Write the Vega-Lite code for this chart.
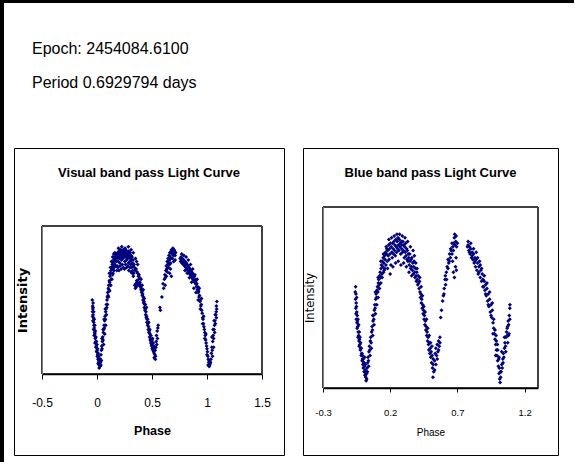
{
  "$schema": "https://vega.github.io/schema/vega-lite/v6.json",
  "padding": 0,
  "background": "white",
  "config": {"view": {"stroke": null}, "font": "Liberation Sans", "axis": {"grid": false}},
  "datasets": {
    "visual": [
      {"p":-0.043,"v":50},{"p":-0.040,"v":46},{"p":-0.038,"v":44},{"p":-0.041,"v":42},{"p":-0.036,"v":45},{"p":-0.035,"v":40},{"p":-0.033,"v":38},{"p":-0.037,"v":36},{"p":-0.030,"v":35},{"p":-0.028,"v":33},{"p":-0.031,"v":30},{"p":-0.025,"v":31},{"p":-0.022,"v":28},{"p":-0.026,"v":26},{"p":-0.019,"v":27},{"p":-0.016,"v":24},{"p":-0.018,"v":21},{"p":-0.012,"v":22},{"p":-0.010,"v":18},{"p":-0.006,"v":19},{"p":-0.004,"v":15},{"p":0.000,"v":16},{"p":0.003,"v":12},{"p":0.006,"v":13},{"p":0.009,"v":10},{"p":0.012,"v":11},{"p":0.015,"v":8},{"p":0.018,"v":9},{"p":0.021,"v":6},{"p":0.024,"v":7},{"p":0.027,"v":5},{"p":0.030,"v":8},
      {"p":-0.040,"v":39},{"p":-0.035,"v":48},{"p":-0.030,"v":42},{"p":-0.025,"v":37},{"p":-0.020,"v":33},{"p":-0.015,"v":29},{"p":-0.010,"v":25},{"p":-0.005,"v":22},{"p":0.000,"v":20},{"p":0.005,"v":17},{"p":0.010,"v":14},{"p":0.015,"v":12},{"p":0.020,"v":10},{"p":0.010,"v":7},{"p":0.020,"v":4},{"p":0.035,"v":6},{"p":0.040,"v":9},
      {"p":0.033,"v":10},{"p":0.036,"v":13},{"p":0.040,"v":16},{"p":0.043,"v":19},{"p":0.046,"v":17},{"p":0.049,"v":22},{"p":0.052,"v":25},{"p":0.055,"v":23},{"p":0.058,"v":28},{"p":0.061,"v":30},{"p":0.064,"v":33},{"p":0.067,"v":31},{"p":0.070,"v":36},{"p":0.073,"v":39},{"p":0.076,"v":37},{"p":0.079,"v":42},{"p":0.082,"v":44},{"p":0.085,"v":47},{"p":0.088,"v":45},{"p":0.091,"v":50},{"p":0.094,"v":52},{"p":0.097,"v":55},{"p":0.100,"v":53},{"p":0.103,"v":58},{"p":0.106,"v":60},{"p":0.109,"v":57},{"p":0.112,"v":63},{"p":0.115,"v":62},{"p":0.118,"v":66},{"p":0.121,"v":60},{"p":0.124,"v":68},{"p":0.127,"v":70},{"p":0.130,"v":64},{"p":0.133,"v":72},{"p":0.136,"v":71},{"p":0.139,"v":74},{"p":0.142,"v":67},{"p":0.145,"v":75},{"p":0.148,"v":73},{"p":0.151,"v":77},{"p":0.154,"v":70},{"p":0.157,"v":76},{"p":0.160,"v":78},{"p":0.163,"v":74},{"p":0.166,"v":79},{"p":0.169,"v":77},
      {"p":0.045,"v":24},{"p":0.055,"v":30},{"p":0.065,"v":37},{"p":0.075,"v":44},{"p":0.060,"v":20},{"p":0.070,"v":27},{"p":0.080,"v":33},
      {"p":0.085,"v":40},{"p":0.095,"v":47},{"p":0.105,"v":52},{"p":0.115,"v":56},{"p":0.125,"v":60},{"p":0.135,"v":64},{"p":0.145,"v":68},{"p":0.155,"v":72},{"p":0.165,"v":73},{"p":0.112,"v":68},{"p":0.122,"v":72},{"p":0.132,"v":76},{"p":0.142,"v":79},{"p":0.152,"v":81},{"p":0.162,"v":82},
      {"p":0.172,"v":80},{"p":0.175,"v":76},{"p":0.178,"v":81},{"p":0.181,"v":78},{"p":0.184,"v":73},{"p":0.187,"v":82},{"p":0.190,"v":79},{"p":0.193,"v":76},{"p":0.196,"v":81},{"p":0.199,"v":83},{"p":0.202,"v":78},{"p":0.205,"v":80},{"p":0.208,"v":75},{"p":0.211,"v":82},{"p":0.214,"v":84},{"p":0.217,"v":79},{"p":0.220,"v":81},{"p":0.223,"v":77},{"p":0.226,"v":83},{"p":0.229,"v":80},{"p":0.232,"v":82},{"p":0.235,"v":78},{"p":0.238,"v":84},{"p":0.241,"v":81},{"p":0.244,"v":79},{"p":0.247,"v":83},{"p":0.250,"v":80},{"p":0.253,"v":76},{"p":0.256,"v":82},{"p":0.259,"v":84},{"p":0.262,"v":79},{"p":0.265,"v":81},{"p":0.268,"v":77},{"p":0.271,"v":83},{"p":0.274,"v":80},{"p":0.277,"v":82},{"p":0.280,"v":78},{"p":0.283,"v":81},{"p":0.286,"v":75},{"p":0.289,"v":83},{"p":0.292,"v":79},{"p":0.295,"v":80},{"p":0.298,"v":76},{"p":0.301,"v":82},{"p":0.304,"v":78},{"p":0.307,"v":74},{"p":0.310,"v":80},{"p":0.313,"v":77},{"p":0.316,"v":72},{"p":0.319,"v":79},{"p":0.322,"v":75},{"p":0.325,"v":70},{"p":0.328,"v":77},{"p":0.331,"v":73},{"p":0.334,"v":68},{"p":0.337,"v":74},
      {"p":0.180,"v":70},{"p":0.190,"v":72},{"p":0.200,"v":70},{"p":0.210,"v":73},{"p":0.220,"v":71},{"p":0.230,"v":74},{"p":0.240,"v":72},{"p":0.250,"v":71},{"p":0.260,"v":74},{"p":0.270,"v":72},{"p":0.280,"v":73},{"p":0.290,"v":70},{"p":0.300,"v":72},{"p":0.310,"v":69},{"p":0.320,"v":68},{"p":0.330,"v":66},{"p":0.195,"v":85},{"p":0.225,"v":86},{"p":0.255,"v":85},{"p":0.285,"v":86},{"p":0.310,"v":84},{"p":0.330,"v":82},{"p":0.350,"v":78},{"p":0.360,"v":76},{"p":0.370,"v":74},
      {"p":0.340,"v":72},{"p":0.343,"v":60},{"p":0.346,"v":70},{"p":0.349,"v":58},{"p":0.352,"v":61},{"p":0.355,"v":71},{"p":0.358,"v":59},{"p":0.361,"v":63},{"p":0.364,"v":69},{"p":0.367,"v":62},{"p":0.370,"v":68},{"p":0.373,"v":60},{"p":0.376,"v":66},{"p":0.379,"v":64},{"p":0.382,"v":67},{"p":0.385,"v":61},{"p":0.388,"v":65},
      {"p":0.391,"v":62},{"p":0.394,"v":59},{"p":0.397,"v":60},{"p":0.400,"v":57},{"p":0.403,"v":58},{"p":0.406,"v":55},{"p":0.409,"v":56},{"p":0.412,"v":53},{"p":0.415,"v":54},{"p":0.418,"v":50},{"p":0.421,"v":52},{"p":0.424,"v":48},{"p":0.427,"v":49},{"p":0.430,"v":45},{"p":0.433,"v":47},{"p":0.436,"v":43},{"p":0.439,"v":44},{"p":0.442,"v":40},{"p":0.445,"v":42},{"p":0.448,"v":38},{"p":0.451,"v":39},{"p":0.454,"v":35},{"p":0.457,"v":37},{"p":0.460,"v":33},{"p":0.463,"v":34},{"p":0.466,"v":30},{"p":0.469,"v":32},{"p":0.472,"v":28},{"p":0.475,"v":29},{"p":0.478,"v":25},{"p":0.481,"v":27},{"p":0.484,"v":23},{"p":0.487,"v":24},{"p":0.490,"v":21},{"p":0.493,"v":22},{"p":0.496,"v":19},{"p":0.499,"v":20},{"p":0.502,"v":17},{"p":0.505,"v":24},{"p":0.508,"v":18},{"p":0.511,"v":21},{"p":0.514,"v":15},{"p":0.517,"v":19},{"p":0.520,"v":14},{"p":0.523,"v":17},{"p":0.526,"v":13},{"p":0.529,"v":16},{"p":0.532,"v":12},{"p":0.535,"v":18},{"p":0.538,"v":22},{"p":0.541,"v":26},{"p":0.544,"v":20},{"p":0.547,"v":29},{"p":0.550,"v":24},{"p":0.553,"v":31},{"p":0.556,"v":33},
      {"p":0.400,"v":64},{"p":0.410,"v":60},{"p":0.420,"v":57},{"p":0.430,"v":51},{"p":0.440,"v":47},{"p":0.450,"v":45},{"p":0.460,"v":37},{"p":0.470,"v":35},{"p":0.480,"v":30},{"p":0.490,"v":26},{"p":0.500,"v":23},{"p":0.510,"v":16},{"p":0.520,"v":11},{"p":0.530,"v":10},
      {"p":0.572,"v":45},{"p":0.576,"v":43},{"p":0.590,"v":52},{"p":0.600,"v":61},{"p":0.606,"v":58},{"p":0.612,"v":64},{"p":0.617,"v":67},{"p":0.621,"v":65},{"p":0.626,"v":70},{"p":0.630,"v":73},{"p":0.634,"v":71},{"p":0.638,"v":76},{"p":0.642,"v":74},{"p":0.646,"v":78},{"p":0.650,"v":72},{"p":0.654,"v":80},{"p":0.658,"v":77},{"p":0.662,"v":82},{"p":0.666,"v":79},{"p":0.670,"v":75},{"p":0.674,"v":83},{"p":0.678,"v":84},{"p":0.682,"v":81},{"p":0.686,"v":78},{"p":0.690,"v":82},{"p":0.694,"v":80},{"p":0.698,"v":76},{"p":0.702,"v":81},{"p":0.706,"v":83},{"p":0.710,"v":80},{"p":0.714,"v":82},{"p":0.660,"v":68},{"p":0.668,"v":71},{"p":0.676,"v":66},
      {"p":0.630,"v":66},{"p":0.640,"v":69},{"p":0.650,"v":75},{"p":0.660,"v":74},{"p":0.670,"v":78},{"p":0.690,"v":85},{"p":0.700,"v":84},{"p":0.710,"v":77},{"p":0.620,"v":60},
      {"p":0.756,"v":78},{"p":0.760,"v":76},{"p":0.764,"v":79},{"p":0.768,"v":77},{"p":0.772,"v":75},{"p":0.776,"v":78},{"p":0.780,"v":76},{"p":0.784,"v":74},{"p":0.788,"v":77},{"p":0.792,"v":75},{"p":0.796,"v":73},{"p":0.800,"v":76},{"p":0.804,"v":74},{"p":0.808,"v":72},{"p":0.812,"v":75},{"p":0.816,"v":71},{"p":0.820,"v":74},{"p":0.824,"v":70},{"p":0.828,"v":73},{"p":0.832,"v":69},{"p":0.836,"v":72},{"p":0.840,"v":68},{"p":0.844,"v":71},{"p":0.848,"v":67},{"p":0.852,"v":70},{"p":0.856,"v":66},{"p":0.860,"v":69},{"p":0.864,"v":65},{"p":0.868,"v":68},{"p":0.872,"v":64},{"p":0.876,"v":67},{"p":0.880,"v":63},{"p":0.884,"v":66},{"p":0.888,"v":62},{"p":0.892,"v":64},{"p":0.896,"v":61},{"p":0.900,"v":63},{"p":0.904,"v":59},{"p":0.908,"v":61},{"p":0.912,"v":57},{"p":0.916,"v":59},{"p":0.920,"v":55},{"p":0.924,"v":56},{"p":0.928,"v":52},{"p":0.932,"v":53},{"p":0.936,"v":49},{"p":0.940,"v":50},{"p":0.944,"v":46},{"p":0.948,"v":47},{"p":0.952,"v":43},{"p":0.956,"v":41},{"p":0.960,"v":38},{"p":0.964,"v":37},{"p":0.968,"v":34},{"p":0.972,"v":32},{"p":0.976,"v":30},{"p":0.980,"v":28},{"p":0.984,"v":26},{"p":0.988,"v":23},{"p":0.992,"v":21},{"p":0.996,"v":19},{"p":1.000,"v":17},{"p":1.004,"v":15},{"p":1.008,"v":12},{"p":1.012,"v":10},{"p":1.016,"v":8},{"p":1.020,"v":9},{"p":1.024,"v":6},{"p":1.028,"v":7},{"p":1.032,"v":8},
      {"p":0.770,"v":81},{"p":0.790,"v":80},{"p":0.810,"v":79},{"p":0.830,"v":77},{"p":0.850,"v":74},{"p":0.870,"v":71},{"p":0.890,"v":67},{"p":0.910,"v":64},{"p":0.930,"v":58},{"p":0.950,"v":51},{"p":0.970,"v":39},{"p":0.990,"v":27},{"p":0.800,"v":70},{"p":0.820,"v":68},{"p":0.840,"v":65},{"p":0.860,"v":62},{"p":0.880,"v":58},{"p":0.900,"v":55},{"p":0.920,"v":50},{"p":0.940,"v":44},{"p":0.960,"v":34},{"p":0.980,"v":24},{"p":1.000,"v":13},{"p":1.010,"v":6},{"p":1.020,"v":5},
      {"p":1.036,"v":10},{"p":1.040,"v":14},{"p":1.044,"v":18},{"p":1.048,"v":16},{"p":1.052,"v":22},{"p":1.056,"v":26},{"p":1.060,"v":24},{"p":1.064,"v":30},{"p":1.068,"v":33},{"p":1.072,"v":36},{"p":1.076,"v":34},{"p":1.080,"v":40},{"p":1.084,"v":42},{"p":1.088,"v":44},{"p":1.090,"v":49},{"p":1.086,"v":38},
      {"p":1.045,"v":25},{"p":1.055,"v":30},{"p":1.065,"v":36},{"p":1.075,"v":40},{"p":1.085,"v":46},{"p":1.050,"v":12},{"p":1.060,"v":18},{"p":1.070,"v":28}
    ],
    "blue": [
      {"p":-0.057,"v":56},{"p":-0.055,"v":52},{"p":-0.058,"v":49},{"p":-0.053,"v":47},{"p":-0.056,"v":44},{"p":-0.051,"v":45},{"p":-0.054,"v":41},{"p":-0.049,"v":42},{"p":-0.052,"v":38},{"p":-0.047,"v":36},{"p":-0.044,"v":37},{"p":-0.046,"v":33},{"p":-0.041,"v":34},{"p":-0.038,"v":31},{"p":-0.040,"v":28},{"p":-0.035,"v":29},{"p":-0.032,"v":26},{"p":-0.029,"v":27},{"p":-0.031,"v":23},{"p":-0.026,"v":24},{"p":-0.022,"v":21},{"p":-0.019,"v":22},{"p":-0.016,"v":18},{"p":-0.013,"v":19},{"p":-0.009,"v":15},{"p":-0.006,"v":16},{"p":-0.003,"v":13},{"p":0.000,"v":11},{"p":0.003,"v":14},{"p":0.006,"v":9},{"p":0.009,"v":12},{"p":0.012,"v":7},{"p":0.015,"v":10},{"p":0.018,"v":6},{"p":0.021,"v":4},{"p":0.016,"v":13},{"p":0.010,"v":17},
      {"p":-0.050,"v":50},{"p":-0.045,"v":40},{"p":-0.040,"v":38},{"p":-0.035,"v":35},{"p":-0.030,"v":31},{"p":-0.025,"v":28},{"p":-0.020,"v":25},{"p":-0.015,"v":22},{"p":-0.010,"v":19},{"p":-0.005,"v":18},{"p":0.000,"v":16},{"p":0.005,"v":14},{"p":0.010,"v":9},{"p":0.015,"v":7},{"p":0.020,"v":8},{"p":0.025,"v":5},{"p":0.030,"v":9},{"p":-0.060,"v":53},
      {"p":0.025,"v":8},{"p":0.028,"v":11},{"p":0.032,"v":14},{"p":0.035,"v":17},{"p":0.038,"v":15},{"p":0.042,"v":20},{"p":0.045,"v":23},{"p":0.048,"v":21},{"p":0.052,"v":26},{"p":0.055,"v":28},{"p":0.058,"v":25},{"p":0.062,"v":31},{"p":0.065,"v":34},{"p":0.068,"v":32},{"p":0.072,"v":37},{"p":0.075,"v":40},{"p":0.078,"v":38},{"p":0.082,"v":43},{"p":0.085,"v":46},{"p":0.088,"v":44},{"p":0.092,"v":49},{"p":0.095,"v":52},{"p":0.098,"v":50},{"p":0.102,"v":54},{"p":0.105,"v":56},{"p":0.108,"v":53},{"p":0.112,"v":58},{"p":0.115,"v":60},{"p":0.118,"v":57},{"p":0.122,"v":62},{"p":0.125,"v":64},{"p":0.128,"v":61},{"p":0.132,"v":66},{"p":0.135,"v":68},{"p":0.138,"v":63},{"p":0.142,"v":70},{"p":0.145,"v":67},{"p":0.148,"v":72},{"p":0.152,"v":69},{"p":0.155,"v":65},{"p":0.158,"v":73},{"p":0.162,"v":71},{"p":0.165,"v":75},{"p":0.168,"v":68},
      {"p":0.040,"v":12},{"p":0.050,"v":18},{"p":0.060,"v":22},{"p":0.070,"v":29},{"p":0.080,"v":35},{"p":0.090,"v":41},{"p":0.100,"v":46},{"p":0.110,"v":50},{"p":0.120,"v":55},{"p":0.130,"v":58},{"p":0.140,"v":61},{"p":0.150,"v":64},{"p":0.160,"v":66},{"p":0.070,"v":40},{"p":0.090,"v":53},{"p":0.110,"v":61},{"p":0.130,"v":70},{"p":0.150,"v":74},{"p":0.170,"v":78},
      {"p":0.172,"v":74},{"p":0.175,"v":77},{"p":0.178,"v":70},{"p":0.182,"v":76},{"p":0.185,"v":73},{"p":0.188,"v":79},{"p":0.192,"v":71},{"p":0.195,"v":77},{"p":0.198,"v":74},{"p":0.202,"v":80},{"p":0.205,"v":68},{"p":0.208,"v":78},{"p":0.212,"v":75},{"p":0.215,"v":72},{"p":0.218,"v":80},{"p":0.222,"v":77},{"p":0.225,"v":74},{"p":0.228,"v":81},{"p":0.232,"v":76},{"p":0.235,"v":79},{"p":0.238,"v":73},{"p":0.242,"v":82},{"p":0.245,"v":78},{"p":0.248,"v":75},{"p":0.252,"v":81},{"p":0.255,"v":77},{"p":0.258,"v":83},{"p":0.262,"v":79},{"p":0.265,"v":76},{"p":0.268,"v":82},{"p":0.272,"v":78},{"p":0.275,"v":80},{"p":0.278,"v":74},{"p":0.282,"v":81},{"p":0.285,"v":77},{"p":0.288,"v":79},{"p":0.292,"v":75},{"p":0.295,"v":81},{"p":0.298,"v":76},{"p":0.302,"v":79},{"p":0.305,"v":72},{"p":0.308,"v":78},{"p":0.312,"v":75},{"p":0.315,"v":80},{"p":0.318,"v":73},{"p":0.322,"v":77},{"p":0.325,"v":71},{"p":0.328,"v":76},{"p":0.332,"v":70},{"p":0.335,"v":74},
      {"p":0.180,"v":66},{"p":0.190,"v":82},{"p":0.200,"v":63},{"p":0.210,"v":83},{"p":0.220,"v":67},{"p":0.230,"v":84},{"p":0.240,"v":69},{"p":0.250,"v":85},{"p":0.260,"v":70},{"p":0.270,"v":85},{"p":0.280,"v":68},{"p":0.290,"v":84},{"p":0.300,"v":69},{"p":0.310,"v":83},{"p":0.320,"v":67},{"p":0.330,"v":81},{"p":0.340,"v":64},{"p":0.350,"v":78},{"p":0.360,"v":62},{"p":0.370,"v":76},{"p":0.380,"v":73},{"p":0.390,"v":69},{"p":0.400,"v":66},
      {"p":0.338,"v":72},{"p":0.342,"v":68},{"p":0.345,"v":74},{"p":0.348,"v":70},{"p":0.352,"v":66},{"p":0.355,"v":71},{"p":0.358,"v":67},{"p":0.362,"v":72},{"p":0.365,"v":65},{"p":0.368,"v":69},{"p":0.372,"v":63},{"p":0.375,"v":67},{"p":0.378,"v":70},{"p":0.382,"v":64},{"p":0.385,"v":61},{"p":0.388,"v":66},{"p":0.392,"v":62},{"p":0.395,"v":59},{"p":0.398,"v":64},{"p":0.402,"v":60},{"p":0.405,"v":57},{"p":0.408,"v":62},{"p":0.412,"v":58},
      {"p":0.415,"v":55},{"p":0.418,"v":59},{"p":0.422,"v":53},{"p":0.425,"v":50},{"p":0.428,"v":52},{"p":0.432,"v":47},{"p":0.435,"v":49},{"p":0.438,"v":44},{"p":0.442,"v":46},{"p":0.445,"v":41},{"p":0.448,"v":43},{"p":0.452,"v":38},{"p":0.455,"v":40},{"p":0.458,"v":35},{"p":0.462,"v":37},{"p":0.465,"v":32},{"p":0.468,"v":34},{"p":0.472,"v":29},{"p":0.475,"v":31},{"p":0.478,"v":26},{"p":0.482,"v":28},{"p":0.485,"v":24},{"p":0.488,"v":21},{"p":0.492,"v":25},{"p":0.495,"v":19},{"p":0.498,"v":22},{"p":0.502,"v":17},{"p":0.505,"v":20},{"p":0.508,"v":14},{"p":0.512,"v":18},{"p":0.515,"v":11},{"p":0.518,"v":6},{"p":0.520,"v":13},{"p":0.524,"v":9},
      {"p":0.420,"v":61},{"p":0.430,"v":56},{"p":0.440,"v":51},{"p":0.450,"v":45},{"p":0.460,"v":42},{"p":0.470,"v":38},{"p":0.480,"v":33},{"p":0.490,"v":29},{"p":0.500,"v":25},{"p":0.510,"v":23},{"p":0.520,"v":16},{"p":0.530,"v":10},{"p":0.540,"v":13},{"p":0.550,"v":16},{"p":0.560,"v":21},{"p":0.570,"v":28},
      {"p":0.530,"v":15},{"p":0.535,"v":19},{"p":0.540,"v":22},{"p":0.545,"v":18},{"p":0.550,"v":24},{"p":0.555,"v":20},{"p":0.560,"v":26},{"p":0.565,"v":23},{"p":0.570,"v":25},
      {"p":0.576,"v":39},{"p":0.582,"v":43},{"p":0.590,"v":48},{"p":0.596,"v":51},{"p":0.602,"v":55},{"p":0.608,"v":60},{"p":0.612,"v":57},{"p":0.618,"v":64},{"p":0.624,"v":67},{"p":0.630,"v":71},{"p":0.636,"v":69},{"p":0.642,"v":74},{"p":0.648,"v":72},{"p":0.654,"v":76},{"p":0.660,"v":74},{"p":0.666,"v":78},{"p":0.672,"v":80},{"p":0.677,"v":83},{"p":0.682,"v":79},{"p":0.688,"v":81},{"p":0.694,"v":78},{"p":0.670,"v":64},{"p":0.678,"v":61},{"p":0.686,"v":67},{"p":0.692,"v":65},{"p":0.664,"v":70},
      {"p":0.600,"v":52},{"p":0.610,"v":62},{"p":0.620,"v":60},{"p":0.630,"v":66},{"p":0.640,"v":70},{"p":0.650,"v":77},{"p":0.660,"v":80},{"p":0.670,"v":76},{"p":0.680,"v":85},{"p":0.690,"v":84},{"p":0.700,"v":80},{"p":0.690,"v":72},
      {"p":0.775,"v":78},{"p":0.780,"v":79},{"p":0.785,"v":76},{"p":0.790,"v":78},{"p":0.795,"v":74},{"p":0.800,"v":77},{"p":0.805,"v":72},{"p":0.810,"v":75},{"p":0.815,"v":71},{"p":0.820,"v":74},{"p":0.825,"v":69},{"p":0.830,"v":72},{"p":0.835,"v":67},{"p":0.840,"v":71},{"p":0.845,"v":65},{"p":0.850,"v":69},{"p":0.855,"v":63},{"p":0.860,"v":67},{"p":0.865,"v":70},{"p":0.870,"v":61},{"p":0.875,"v":65},{"p":0.880,"v":59},{"p":0.885,"v":63},{"p":0.890,"v":60},{"p":0.895,"v":56},{"p":0.900,"v":59},{"p":0.905,"v":54},{"p":0.910,"v":57},{"p":0.915,"v":51},{"p":0.920,"v":55},{"p":0.925,"v":48},{"p":0.930,"v":52},{"p":0.935,"v":45},{"p":0.940,"v":49},{"p":0.945,"v":42},{"p":0.950,"v":46},{"p":0.955,"v":39},{"p":0.960,"v":43},{"p":0.965,"v":36},{"p":0.970,"v":33},{"p":0.975,"v":30},{"p":0.980,"v":27},{"p":0.985,"v":24},{"p":0.990,"v":21},{"p":0.995,"v":18},{"p":1.000,"v":15},{"p":1.005,"v":12},{"p":1.010,"v":8},{"p":1.015,"v":5},{"p":1.018,"v":3},{"p":1.008,"v":16},{"p":0.998,"v":24},{"p":0.988,"v":29},{"p":1.012,"v":11},
      {"p":0.780,"v":81},{"p":0.790,"v":75},{"p":0.800,"v":80},{"p":0.810,"v":73},{"p":0.820,"v":77},{"p":0.830,"v":70},{"p":0.840,"v":75},{"p":0.850,"v":72},{"p":0.860,"v":64},{"p":0.870,"v":68},{"p":0.880,"v":66},{"p":0.890,"v":56},{"p":0.900,"v":62},{"p":0.910,"v":52},{"p":0.920,"v":58},{"p":0.930,"v":46},{"p":0.940,"v":53},{"p":0.950,"v":40},{"p":0.960,"v":47},{"p":0.970,"v":38},{"p":0.980,"v":32},{"p":0.990,"v":26},{"p":1.000,"v":21},{"p":1.010,"v":17},{"p":1.020,"v":9},{"p":0.965,"v":30},{"p":0.985,"v":18},
      {"p":1.022,"v":6},{"p":1.026,"v":9},{"p":1.030,"v":13},{"p":1.034,"v":11},{"p":1.038,"v":16},{"p":1.042,"v":19},{"p":1.046,"v":17},{"p":1.050,"v":22},{"p":1.054,"v":25},{"p":1.058,"v":23},{"p":1.062,"v":28},{"p":1.066,"v":31},{"p":1.070,"v":29},{"p":1.074,"v":34},{"p":1.078,"v":37},{"p":1.082,"v":35},{"p":1.086,"v":40},{"p":1.090,"v":44},{"p":1.091,"v":46},{"p":1.084,"v":30},
      {"p":1.030,"v":20},{"p":1.040,"v":14},{"p":1.050,"v":28},{"p":1.060,"v":20},{"p":1.070,"v":33},{"p":1.080,"v":29},{"p":1.090,"v":38},{"p":1.075,"v":25}
    ]
  },
  "hconcat": [
    {
      "vconcat": [
        {
          "data": {"values": []},
          "mark": "point",
          "width": 574,
          "height": 3,
          "view": {"fill": "black", "stroke": null},
          "title": {
            "text": "Epoch: 2454084.6100",
            "subtitle": "Period 0.6929794 days",
            "orient": "bottom",
            "anchor": "start",
            "frame": "group",
            "dx": 32,
            "offset": 38,
            "font": "Liberation Sans",
            "fontSize": 16,
            "fontWeight": "normal",
            "color": "black",
            "subtitleFont": "Liberation Sans",
            "subtitleFontSize": 16,
            "subtitleColor": "black",
            "subtitlePadding": 18
          }
        },
        {
          "hconcat": [
            {"data": {"values": []}, "mark": "point", "width": 1, "height": 1},
            {
              "hconcat": [
                {
                  "width": 270,
                  "height": 307,
                  "view": {"stroke": "black", "strokeWidth": 1},
                  "title": {"text": "Visual band pass Light Curve", "offset": -32, "font": "Liberation Sans", "fontSize": 13, "fontWeight": "bold", "color": "black"},
                  "data": {"name": "visual"},
                  "layer": [
                    {
                      "mark": {"type": "rect", "fill": "transparent", "stroke": "#404040", "strokeWidth": 1},
                      "encoding": {
                        "x": {"datum": -0.5, "type": "quantitative"},
                        "x2": {"datum": 1.5},
                        "y": {"datum": 0, "type": "quantitative"},
                        "y2": {"datum": 100}
                      }
                    },
                    {
                      "mark": {"type": "point", "shape": "diamond", "filled": true, "size": 16, "color": "#000080", "opacity": 1},
                      "encoding": {
                        "x": {"field": "p", "type": "quantitative",
                          "scale": {"domain": [-0.5, 1.5], "range": [28, 248], "nice": false, "zero": false},
                          "axis": {"orient": "bottom", "offset": -81, "values": [-0.5, 0, 0.5, 1, 1.5], "labelExpr": "replace(format(datum.value, '~g'), '\u2212', '-')", "tickSize": 5, "tickColor": "black", "domainColor": "black", "domainWidth": 1.5, "labelFont": "Liberation Sans", "labelFontSize": 12, "labelColor": "black", "labelPadding": 18, "labelFlush": false, "labelOverlap": false, "title": "Phase", "titleFont": "Liberation Sans", "titleFontSize": 12.5, "titleFontWeight": "bold", "titleColor": "black", "titlePadding": 16, "zindex": 1}
                        },
                        "y": {"field": "v", "type": "quantitative",
                          "scale": {"domain": [0, 100], "range": [226, 78], "nice": false, "zero": false},
                          "axis": {"orient": "left", "offset": -28, "ticks": false, "labels": false, "domainColor": "#808080", "title": "Intensity", "titleFont": "DejaVu Sans", "titleFontSize": 13, "titleFontWeight": "bold", "titleColor": "black", "titlePadding": 13, "zindex": 1}
                        }
                      }
                    }
                  ]
                },
                {
                  "width": 255,
                  "height": 307,
                  "view": {"stroke": "black", "strokeWidth": 1},
                  "title": {"text": "Blue band pass Light Curve", "offset": -32, "font": "Liberation Sans", "fontSize": 13, "fontWeight": "bold", "color": "black"},
                  "data": {"name": "blue"},
                  "layer": [
                    {
                      "mark": {"type": "rect", "fill": "transparent", "stroke": "#404040", "strokeWidth": 1},
                      "encoding": {
                        "x": {"datum": -0.3, "type": "quantitative"},
                        "x2": {"datum": 1.3},
                        "y": {"datum": 0, "type": "quantitative"},
                        "y2": {"datum": 100}
                      }
                    },
                    {
                      "mark": {"type": "point", "shape": "diamond", "filled": true, "size": 16, "color": "#000080", "opacity": 1},
                      "encoding": {
                        "x": {"field": "p", "type": "quantitative",
                          "scale": {"domain": [-0.3, 1.3], "range": [20, 235], "nice": false, "zero": false},
                          "axis": {"orient": "bottom", "offset": -67, "values": [-0.3, 0.2, 0.7, 1.2], "labelExpr": "replace(format(datum.value, '~g'), '\u2212', '-')", "tickSize": 4, "tickColor": "black", "domainColor": "black", "domainWidth": 1.5, "labelFont": "Liberation Sans", "labelFontSize": 9.5, "labelColor": "black", "labelPadding": 15, "labelFlush": false, "labelOverlap": false, "title": "Phase", "titleFont": "Liberation Sans", "titleFontSize": 10, "titleFontWeight": "normal", "titleColor": "black", "titlePadding": 11, "zindex": 1}
                        },
                        "y": {"field": "v", "type": "quantitative",
                          "scale": {"domain": [0, 100], "range": [240, 59], "nice": false, "zero": false},
                          "axis": {"orient": "left", "offset": -20, "ticks": false, "labels": false, "domainColor": "#808080", "title": "Intensity", "titleFont": "DejaVu Sans", "titleFontSize": 11.5, "titleFontWeight": "normal", "titleColor": "black", "titlePadding": 8, "zindex": 1}
                        }
                      }
                    }
                  ]
                }
              ],
              "spacing": 19,
              "bounds": "flush"
            }
          ],
          "spacing": 13,
          "bounds": "flush"
        }
      ],
      "spacing": 145,
      "bounds": "flush"
    },
    {
      "data": {"values": []},
      "mark": "point",
      "width": 4,
      "height": 462,
      "view": {"fill": "black", "stroke": null}
    }
  ],
  "spacing": 0,
  "bounds": "flush"
}
